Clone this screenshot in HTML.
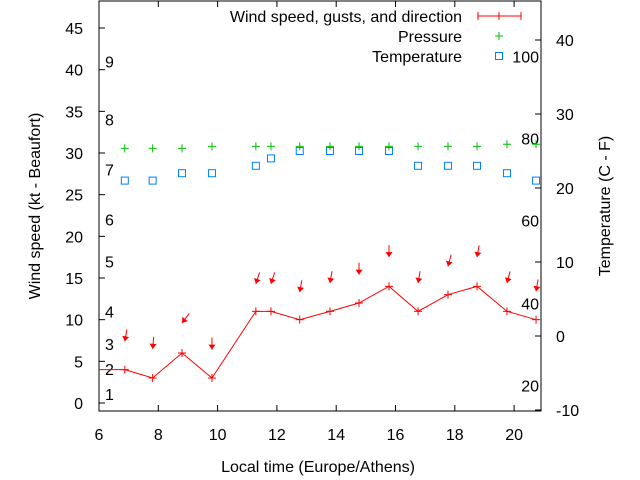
<!DOCTYPE html>
<html><head><meta charset="utf-8"><style>
body{margin:0;background:#fff}
svg{display:block;font-family:"Liberation Sans",sans-serif;font-size:16px}
</style></head><body>
<svg id="c" width="640" height="480" viewBox="0 0 640 480" xmlns="http://www.w3.org/2000/svg"></svg>
<script>
const times=[6.87,7.81,8.8,9.81,11.29,11.8,12.77,13.79,14.77,15.78,16.76,17.77,18.75,19.76,20.74];
const wind=[4,3,6,3,11,11,10,11,12,14,11,13,14,11,10];
const gust=[7.4,6.5,9.6,6.4,14.3,14.3,13.3,14.4,15.4,17.5,14.4,16.4,17.5,14.4,13.4];
const dirs=[10,5,37,0,18,18,10,10,0,0,10,15,10,15,10];
const pressure=[30.56,30.56,30.56,30.8,30.8,30.8,30.8,30.8,30.8,30.8,30.8,30.8,30.8,31.05,31.05];
const temp=[21,21,22,22,23,24,25,25,25,25,23,23,23,22,21];
const xTicks=[6,8,10,12,14,16,18,20];
const yTicks=[0,5,10,15,20,25,30,35,40,45];
const y2Ticks=[-10,0,10,20,30,40];
const beaufort=[[1,1.1],[2,4.1],[3,7.1],[4,11],[5,17],[6,22],[7,28],[8,34],[9,41]];
const fahr=[[20,-6.7],[40,4.4],[60,15.6],[80,26.7],[100,37.8]];

const L=99,R=541,T=1,B=411;
const X=h=>L+(h-6)*29.65;
const Y=v=>403-v*8.333;
const Y2=t=>336-t*7.4;
const svg=document.getElementById('c');
const NS='http://www.w3.org/2000/svg';
const RED='#ff0000';
function el(tag,attrs,parent){const e=document.createElementNS(NS,tag);for(const k in attrs)e.setAttribute(k,attrs[k]);(parent||svg).appendChild(e);return e;}
function txt(s,x,y,anchor,name,parent){const t=el('text',{x:x,y:y,'text-anchor':anchor||'start',fill:'#000'},parent);t.textContent=s;return t;}

const fr=el('rect',{x:L,y:T,width:R-L,height:B-T,fill:'none',stroke:'#000','stroke-width':1});


const ax=el('g',{});


xTicks.forEach(h=>{const x=X(h);
 el('line',{x1:x,y1:B,x2:x,y2:B-6,stroke:'#000'},ax);
 el('line',{x1:x,y1:T,x2:x,y2:T+6,stroke:'#000'},ax);
 txt(String(h),x,440,'middle','x-tick-label',ax);});
yTicks.forEach(v=>{const y=Y(v);
 el('line',{x1:L,y1:y,x2:L+6,y2:y,stroke:'#000'},ax);
 txt(String(v),83,y+6,'end','y-tick-label',ax);});
y2Ticks.forEach(t=>{const y=Y2(t);
 el('line',{x1:R,y1:y,x2:R-6,y2:y,stroke:'#000'},ax);
 txt(String(t),556,y+6,'start','y2-tick-label',ax);});
beaufort.forEach(b=>txt(String(b[0]),105,Y(b[1])+6,'start','beaufort-label',ax));
fahr.forEach(f=>txt(String(f[0]),539,Y2(f[1])+6,'end','fahrenheit-label',ax));
txt('Local time (Europe/Athens)',318,472,'middle','x-axis-title');
const yl=txt('Wind speed (kt - Beaufort)',0,0,'middle','y-axis-title');yl.setAttribute('transform','translate(40,206) rotate(-90)');
const y2l=txt('Temperature (C - F)',0,0,'middle','y2-axis-title');y2l.setAttribute('transform','translate(610,206) rotate(-90)');

let d='M'+L+','+Y(wind[0]);
times.forEach((h,i)=>{d+=' L'+X(h)+','+Y(wind[i]);});
const wl=el('path',{d:d,fill:'none',stroke:RED,'stroke-width':1});


function plus(x,y,c,name){const g=el('g',{stroke:c,'stroke-width':1});el('line',{x1:x-4,y1:y,x2:x+4,y2:y},g);el('line',{x1:x,y1:y-4,x2:x,y2:y+4},g);}
times.forEach((h,i)=>plus(X(h),Y(wind[i]),RED,'wind-point'));
times.forEach((h,i)=>{const hx=X(h),hy=Y(gust[i]);const a=dirs[i]*Math.PI/180;
 const ux=-Math.sin(a),uy=Math.cos(a);const len=12;
 const g=el('g',{});
 
 
 el('line',{x1:hx-ux*len,y1:hy-uy*len,x2:hx,y2:hy,stroke:RED,'stroke-width':1},g);
 const px=-uy,py=ux;
 el('polygon',{points:`${hx},${hy} ${hx-ux*5+px*3.5},${hy-uy*5+py*3.5} ${hx-ux*5-px*3.5},${hy-uy*5-py*3.5}`,fill:RED},g);});
times.forEach((h,i)=>plus(X(h),Y(pressure[i]),'#00c000','pressure-point'));
times.forEach((h,i)=>{const r=el('rect',{x:X(h)-3.5,y:Y2(temp[i])-3.5,width:7,height:7,fill:'none',stroke:'#0080ff','stroke-width':1});
 
 });
const lg=el('g',{});


txt('Wind speed, gusts, and direction',462,22,'end','legend-wind',lg);
el('line',{x1:478,y1:16,x2:521,y2:16,stroke:RED},lg);
el('line',{x1:478,y1:12,x2:478,y2:20,stroke:RED},lg);
el('line',{x1:521,y1:12,x2:521,y2:20,stroke:RED},lg);
el('line',{x1:499,y1:12,x2:499,y2:20,stroke:RED},lg);
txt('Pressure',462,42,'end','legend-pressure',lg);
plus(499,36,'#00c000','legend-pressure-marker');
txt('Temperature',462,62,'end','legend-temperature',lg);
const lr=el('rect',{x:495.5,y:52.5,width:7,height:7,fill:'none',stroke:'#0080ff'},lg);


</script>
</body></html>
